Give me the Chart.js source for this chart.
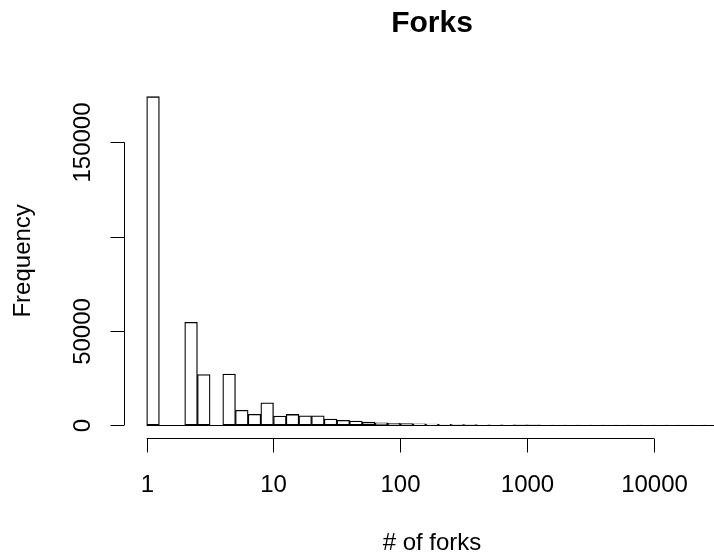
<!DOCTYPE html>
<html>
<head>
<meta charset="utf-8">
<script src="https://cdn.jsdelivr.net/npm/chart.js@4"></script>
<style>
  html, body { margin: 0; padding: 0; background: #fff; overflow: hidden; }
</style>
</head>
<body>
<canvas id="forksChart" width="714" height="560"></canvas>
<script>
// histogram of log10(# of forks), bins of 0.1
const binWidth = 0.1;
const binStarts = [
  0.0, 0.1, 0.2, 0.3, 0.4, 0.5, 0.6, 0.7, 0.8, 0.9,
  1.0, 1.1, 1.2, 1.3, 1.4, 1.5, 1.6, 1.7, 1.8, 1.9,
  2.0, 2.1, 2.2, 2.3, 2.4, 2.5, 2.6, 2.7, 2.8, 2.9,
  3.0, 3.1, 3.2, 3.3, 3.4, 3.5, 3.6, 3.7, 3.8, 3.9,
  4.0, 4.1, 4.2, 4.3, 4.4
];
const counts = [
  174200, 0, 0, 54500, 26800, 0, 27000, 7850, 5700, 11800,
  4800, 5600, 4900, 4900, 3200, 2450, 2100, 1500, 1200, 950,
  800, 600, 450, 340, 250, 180, 130, 95, 70, 50,
  36, 26, 18, 13, 9, 6, 4, 3, 2, 1,
  1, 1, 0, 1, 1
];

const xTicks = [0, 1, 2, 3, 4];
const xTickLabels = ['1', '10', '100', '1000', '10000'];
const yTicks = [0, 50000, 100000, 150000];
const yTickLabels = ['0', '50000', '', '150000']; // R drops the 100000 label

const FONT = '"Liberation Sans", Arial, Helvetica, sans-serif';

// R base-graphics style axes, drawn from the chart's scales
const rAxes = {
  id: 'rAxes',
  afterDraw(chart) {
    const { ctx, chartArea } = chart;
    const x = chart.scales.x;
    const y = chart.scales.y;
    const line = (x1, y1, x2, y2) => {
      ctx.beginPath();
      ctx.moveTo(x1, y1);
      ctx.lineTo(x2, y2);
      ctx.stroke();
    };
    ctx.save();
    ctx.strokeStyle = '#000';
    ctx.fillStyle = '#000';
    ctx.lineWidth = 1;

    // zero-height bins still get drawn as a line in R
    const y0 = Math.round(y.getPixelForValue(0)) + 0.5;
    const lastBin = binStarts[binStarts.length - 1] + binWidth;
    line(x.getPixelForValue(binStarts[0]), y0, x.getPixelForValue(lastBin), y0);

    // x axis
    const xb = Math.round(chartArea.bottom) + 0.5;
    line(x.getPixelForValue(xTicks[0]), xb, x.getPixelForValue(xTicks[xTicks.length - 1]), xb);
    ctx.font = '24px ' + FONT;
    ctx.textAlign = 'center';
    ctx.textBaseline = 'alphabetic';
    xTicks.forEach((t, i) => {
      const px = Math.round(x.getPixelForValue(t)) + 0.5;
      line(px, xb, px, xb + 14);
      ctx.fillText(xTickLabels[i], px, xb + 53);
    });

    // y axis
    const xl = Math.round(chartArea.left) + 0.5;
    line(xl, y.getPixelForValue(yTicks[0]), xl, y.getPixelForValue(yTicks[yTicks.length - 1]));
    yTicks.forEach((t, i) => {
      const py = Math.round(y.getPixelForValue(t)) + 0.5;
      line(xl, py, xl - 14, py);
      if (!yTickLabels[i]) return;
      ctx.save();
      ctx.translate(xl - 35, py);
      ctx.rotate(-Math.PI / 2);
      ctx.fillText(yTickLabels[i], 0, 0);
      ctx.restore();
    });

    // axis titles
    const midX = x.getPixelForValue((binStarts[0] + lastBin) / 2);
    ctx.fillText('# of forks', midX, 550);
    ctx.save();
    ctx.translate(30, (chartArea.top + chartArea.bottom) / 2);
    ctx.rotate(-Math.PI / 2);
    ctx.fillText('Frequency', 0, 0);
    ctx.restore();

    // main title
    ctx.font = 'bold 30px ' + FONT;
    ctx.fillText('Forks', midX, 32);
    ctx.restore();
  }
};

const drawHistogram = () => {
  const ctx = document.getElementById('forksChart').getContext('2d');

  new Chart(ctx, {
    type: 'bar',
    data: {
      datasets: [
        {
          data: binStarts.map((s, i) => ({ x: s + binWidth / 2, y: counts[i] })),
          backgroundColor: '#ffffff',
          borderColor: '#000000',
          borderWidth: 1.3,
          borderSkipped: false,
          barPercentage: 1,
          categoryPercentage: 1,
        },
      ],
    },
    options: {
      responsive: false,
      animation: false,
      devicePixelRatio: 1,
      layout: {
        padding: { left: 124, right: 0, top: 83.5, bottom: 121.8 },
      },
      plugins: {
        legend: { display: false },
        title: { display: false },
        tooltip: { enabled: false },
      },
      scales: {
        x: {
          type: 'linear',
          min: -0.179,
          max: 4.474,
          offset: false,
          display: false,
        },
        y: {
          min: -7000,
          max: 181200,
          display: false,
        },
      },
    },
    plugins: [rAxes],
  });
};

drawHistogram();
</script>
</body>
</html>
